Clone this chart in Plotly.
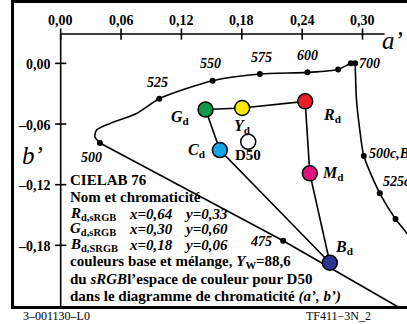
import plotly.graph_objects as go

# spectral locus, upper curved part (700 nm -> 500 nm)
locus_top_a = [0.2927, 0.2884, 0.2758, 0.2453, 0.198, 0.151, 0.098, 0.0754, 0.049, 0.0357, 0.034, 0.039]
locus_top_b = [0.0, 0.0, -0.006, -0.0089, -0.0106, -0.0172, -0.035, -0.0496, -0.0595, -0.066, -0.0727, -0.0788]
# lower straight part (500 nm -> 475 nm -> out of view)
locus_low_a = [0.039, 0.2211, 0.332, 0.36]
locus_low_b = [-0.0788, -0.1755, -0.239, -0.255]
# dots on the locus
dot_a = [0.2927, 0.2884, 0.2758, 0.2453, 0.198, 0.151, 0.098, 0.039, 0.2211]
dot_b = [0.0, 0.0, -0.006, -0.0089, -0.0106, -0.0172, -0.035, -0.0788, -0.1755]
wl_labels = ["700", "600", "575", "550", "525", "500", "475"]
wl_a = [0.2927, 0.2453, 0.198, 0.151, 0.098, 0.039, 0.2211]
wl_b = [0.0, -0.0089, -0.0106, -0.0172, -0.035, -0.0788, -0.1755]

# purple boundary (compensation wavelengths)
purple_a = [0.2927, 0.294, 0.2973, 0.3013, 0.3172, 0.3328, 0.344, 0.36]
purple_b = [0.0, -0.0363, -0.066, -0.0917, -0.1286, -0.154, -0.168, -0.19]
purple_dot_a = [0.3013, 0.3172, 0.3328]
purple_dot_b = [-0.0917, -0.1286, -0.154]
purple_labels = ["500c,B", "525c"]

# device colours
col_names = ["R", "Y", "G", "C", "B", "M", "D50"]
col_a = [0.243, 0.1804, 0.144, 0.1582, 0.2675, 0.2476, 0.1864]
col_b = [-0.0376, -0.0442, -0.0457, -0.0858, -0.1972, -0.1088, -0.0776]
col_fill = ["#e8202a", "#f8ea00", "#0e9a48", "#12a6e6", "#2b3590", "#e3107f", "#ffffff"]

x_ticks = [0.0, 0.06, 0.12, 0.18, 0.24, 0.30]
y_ticks = [0.0, -0.06, -0.12, -0.18]

FONT = "Liberation Serif"
b_axis = 0.029

fig = go.Figure()

def line(xs, ys, shape="linear", width=1.6):
    fig.add_trace(go.Scatter(x=xs, y=ys, mode="lines", line=dict(color="black", width=width, shape=shape,
                                                                  smoothing=0.7), hoverinfo="skip"))

# axes
line([0, 0.322], [b_axis, b_axis], width=1.6)
line([0, 0], [b_axis, -0.26], width=1.6)
fig.add_trace(go.Scatter(x=x_ticks, y=[b_axis] * len(x_ticks), mode="markers",
                         marker=dict(symbol="line-ns", size=8, line=dict(width=1.6, color="black"))))
fig.add_trace(go.Scatter(x=[0] * len(y_ticks), y=y_ticks, mode="markers",
                         marker=dict(symbol="line-ew", size=8, line=dict(width=1.6, color="black"))))

ann = []

def txt(x, y, s, size=15, anchor="left", italic=False, bold=True, ref="y"):
    ann.append(dict(x=x, y=y, xref="x", yref=ref, text=s, showarrow=False, xanchor=anchor, yanchor="middle",
                    font=dict(family=FONT, size=size, color="black", weight="bold" if bold else "normal",
                              style="italic" if italic else "normal")))

for v in x_ticks:
    txt(v, 0.0425, f"{v:.2f}".replace(".", ","), size=14, anchor="center")
for v in y_ticks:
    txt(-0.0075, v - 0.0012, f"{v:.2f}".replace(".", ",").replace("-", "\u2013"), size=14, anchor="right")

# locus
line(locus_top_a, locus_top_b, shape="spline")
line(locus_low_a, locus_low_b)
line(purple_a, purple_b, shape="spline")
fig.add_trace(go.Scatter(x=dot_a + purple_dot_a, y=dot_b + purple_dot_b, mode="markers",
                         marker=dict(color="black", size=6)))

# colour triangle
idx = {n: i for i, n in enumerate(col_names)}
for path in (["G", "Y", "R"], ["R", "M", "B"], ["G", "C", "B"]):
    line([col_a[idx[p]] for p in path], [col_b[idx[p]] for p in path])
fig.add_trace(go.Scatter(x=col_a, y=col_b, mode="markers",
                         marker=dict(color=col_fill, size=15, line=dict(color="black", width=1.5))))

# wavelength labels
wl_off = {"700": (0.002, 0.0, "left"), "600": (0.0, 0.0165, "center"), "575": (0.002, 0.016, "center"),
          "550": (-0.002, 0.017, "center"), "525": (-0.0015, 0.0158, "center"), "500": (-0.008, -0.0148, "center"),
          "475": (-0.009, -0.001, "right")}
for lab, a, b in zip(wl_labels, wl_a, wl_b):
    dx, dy, an = wl_off[lab]
    txt(a + dx, b + dy, lab, size=14, anchor=an, italic=True)
txt(purple_dot_a[0] + 0.003, purple_dot_b[0] + 0.003, purple_labels[0], size=14, anchor="left", italic=True)
txt(purple_dot_a[1] + 0.001, purple_dot_b[1] + 0.012, purple_labels[1], size=14, anchor="left", italic=True)

# colour labels
lab_pos = {"R": (0.016, -0.0135, "left"), "Y": (0.0, -0.0185, "center"), "G": (-0.013, -0.008, "right"),
           "C": (-0.012, 0.0, "right"), "B": (0.003, 0.0155, "left"), "M": (0.0105, 0.0, "left")}
for n, a, b in zip(col_names, col_a, col_b):
    if n == "D50":
        txt(a, b - 0.0128, "D50", size=15, anchor="center")
        continue
    dx, dy, an = lab_pos[n]
    txt(a + dx, b + dy, f"<i>{n}</i><sub>d</sub>", size=16, anchor=an)

# axis names
txt(0.3295, 0.023, "a\u2019", size=25, anchor="center", italic=True, bold=False)
txt(-0.0285, -0.0915, "b\u2019", size=25, anchor="center", italic=True, bold=False)

# description block
x0, xx, xy = 0.0073, 0.0659, 0.1205
txt(x0, -0.1154, "CIELAB 76")
txt(x0, -0.1323, "Nom et chromaticit\u00e9")
rows = [("R", "s", "0,64", "0,33", -0.1491), ("G", "s", "0,30", "0,60", -0.1639), ("B", "S", "0,18", "0,06", -0.1798)]
for n, s, xv, yv, yb in rows:
    txt(x0, yb, f"<i>{n}</i><sub>d,{s}RGB</sub>")
    txt(xx, yb, f"<i>x={xv}</i>")
    txt(xy, yb, f"<i>y={yv}</i>")
txt(x0, -0.1966, "couleurs base et m\u00e9lange, <i>Y</i><sub>W</sub>=88,6")
txt(x0, -0.2134, "du <i>sRGB</i>l\u2019espace de couleur pour D50")
txt(x0, -0.2302, "dans le diagramme de chromaticit\u00e9 <i>(a\u2019, b\u2019)</i>")

# footer
ann.append(dict(x=0.02, y=-0.034, xref="paper", yref="paper", text="3\u2013001130\u2013L0", showarrow=False,
                xanchor="left", yanchor="middle", borderpad=0,
                font=dict(family=FONT, size=12, color="black")))
ann.append(dict(x=0.2427, y=-0.034, xref="x", yref="paper", text="TF411\u22123N_2", showarrow=False,
                xanchor="left", yanchor="middle", borderpad=0,
                font=dict(family=FONT, size=12, color="black")))

fig.update_layout(
    width=407, height=324, margin=dict(l=14, r=0, t=3, b=18, autoexpand=False),
    paper_bgcolor="white", plot_bgcolor="white", showlegend=False,
    annotations=ann,
    xaxis=dict(range=[-0.0464, 0.3442], showgrid=False, zeroline=False, showticklabels=False, ticks="",
               showline=True, mirror=True, linecolor="black", linewidth=2.5),
    yaxis=dict(range=[-0.240, 0.0597], showgrid=False, zeroline=False, showticklabels=False, ticks="",
               showline=True, mirror=False, linecolor="black", linewidth=2.5),
)

fig.write_html("out.html", config={"displayModeBar": False},
               post_script="document.body.style.margin='0';document.body.style.overflow='hidden';")
